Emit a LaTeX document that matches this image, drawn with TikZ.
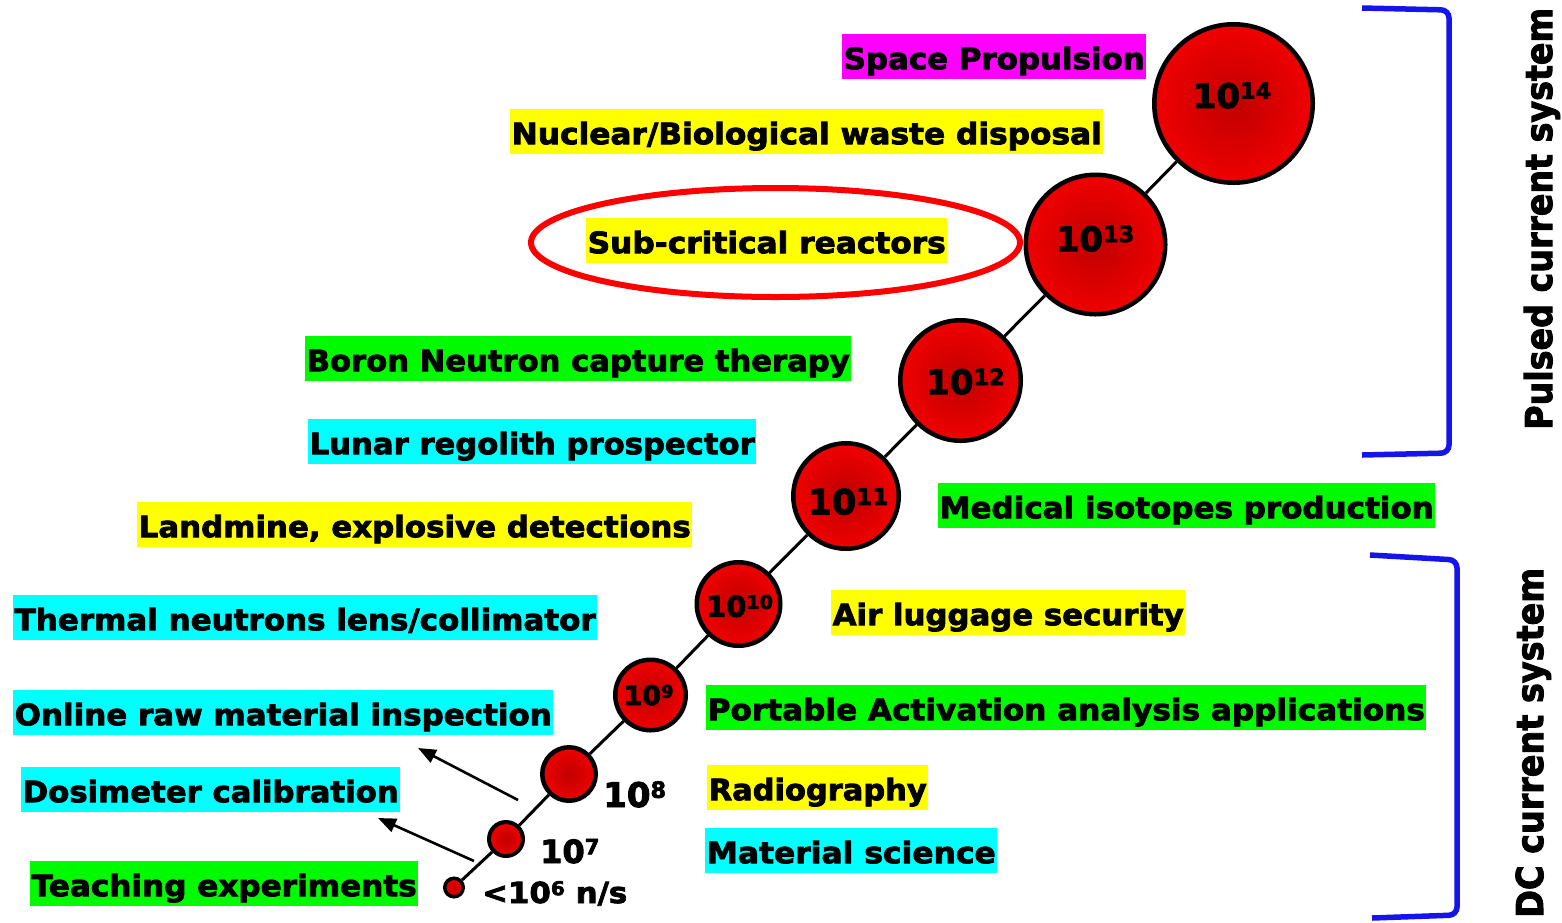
\documentclass[tikz,border=0pt]{standalone}
\usepackage{fontspec}
\setmainfont{DejaVu Sans}[BoldFeatures={FakeBold=2.6}]
\usepackage{graphicx}
\usetikzlibrary{shapes.geometric,arrows.meta}
\definecolor{cyel}{RGB}{255,255,0}
\definecolor{cgrn}{RGB}{0,250,0}
\definecolor{ccyn}{RGB}{0,255,255}
\definecolor{cmag}{RGB}{255,0,255}
\definecolor{cblu}{RGB}{20,20,235}
\definecolor{ballin}{RGB}{192,0,0}
\definecolor{ballout}{RGB}{240,0,0}
\definecolor{ringred}{RGB}{255,0,0}
\newcommand\fitw[2]{\resizebox{#1}{\height}{#2}}
\newcommand\pw[1]{\raisebox{0.27em}{\scalebox{0.66}{#1}}}
\newcommand\lbl{\fontsize{29.5}{34}\selectfont\bfseries}
\begin{document}
\begin{tikzpicture}[x=1pt,y=-1pt,
  lab/.style={anchor=north west, inner xsep=1.5pt, inner ysep=0pt, text height=35pt, text depth=10pt, font=\lbl},
  ball/.style={circle, draw=black, line width=4.5pt, inner sep=0pt, inner color=ballin, outer color=ballout},
  num/.style={font=\bfseries\fontsize{#1}{#1}\selectfont, inner sep=0pt},
  link/.style={draw=black, line width=3pt},
  arr/.style={draw=black, line width=2.6pt, -{Triangle[length=18pt,width=14pt]}},
  brk/.style={draw=cblu, line width=5.5pt, rounded corners=8pt},
  vlab/.style={rotate=90, inner sep=0pt, font=\bfseries\fontsize{37}{37}\selectfont},
  ring/.style={ellipse, draw=ringred, line width=6pt, inner sep=0pt}
]
\fill[white] (0,0) rectangle (1562,922);
\useasboundingbox (0,0) rectangle (1562,922);

% labels
\node[lab, fill=cmag] (sp)   at (842,34)  {\fitw{301pt}{Space Propulsion}};
\node[lab, fill=cyel] (nbw)  at (510,109) {\fitw{590pt}{Nuclear/Biological waste disposal}};
\node[lab, fill=cyel] (scr)  at (586,218) {\fitw{358pt}{Sub-critical reactors}};
\node[lab, fill=cgrn] (bnct) at (305,336) {\fitw{543pt}{Boron Neutron capture therapy}};
\node[lab, fill=ccyn] (lrp)  at (308,419) {\fitw{445pt}{Lunar regolith prospector}};
\node[lab, fill=cyel] (led)  at (137,502) {\fitw{552pt}{Landmine, explosive detections}};
\node[lab, fill=ccyn] (tnl)  at (13,595)  {\fitw{581pt}{Thermal neutrons lens/collimator}};
\node[lab, fill=ccyn] (orm)  at (13,690)  {\fitw{537pt}{Online raw material inspection}};
\node[lab, fill=ccyn] (dos)  at (21,767)  {\fitw{376pt}{Dosimeter calibration}};
\node[lab, fill=cgrn] (tea)  at (30,861)  {\fitw{385pt}{Teaching experiments}};
\node[lab, fill=cgrn] (mip)  at (938,483) {\fitw{494pt}{Medical isotopes production}};
\node[lab, fill=cyel] (als)  at (831,590) {\fitw{351pt}{Air luggage security}};
\node[lab, fill=cgrn] (paa)  at (706,685) {\fitw{717pt}{Portable Activation analysis applications}};
\node[lab, fill=cyel] (rad)  at (707,765) {\fitw{218pt}{Radiography}};
\node[lab, fill=ccyn] (mat)  at (705,828) {\fitw{289pt}{Material science}};

% ring around sub-critical reactors
\node[ring, minimum width=489pt, minimum height=109pt] (ringn) at (775.5,242.5) {};

% circles
\node[ball, minimum size=158.5pt, label={[num=34, xshift=-1.5pt, yshift=8pt]center:10\pw{14}}] (c14) at (1233.5,103.5) {};
\node[ball, minimum size=139.5pt, label={[num=34, xshift=-0.5pt, yshift=6pt]center:10\pw{13}}] (c13) at (1095.5,244.5) {};
\node[ball, minimum size=120.5pt, label={[num=34, xshift=5pt, yshift=-1pt]center:10\pw{12}}] (c12) at (960.5,380.5) {};
\node[ball, minimum size=105.5pt, label={[num=35, xshift=2pt, yshift=-5.5pt]center:10\pw{11}}] (c11) at (846,496) {};
\node[ball, minimum size=83.5pt, label={[num=29, xshift=1pt, yshift=-2pt]center:10\pw{10}}] (c10) at (738.5,604) {};
\node[ball, minimum size=70.5pt, label={[num=27, xshift=-2pt]center:10\pw{9}}] (c9) at (650.5,695) {};
\node[ball, minimum size=53.5pt] (c8) at (569,774) {};
\node[ball, line width=4pt, minimum size=34pt] (c7) at (506,839) {};
\node[ball, line width=3.5pt, minimum size=18.5pt] (c6) at (454,887.5) {};

\draw[link] (c6) -- (c7) -- (c8) -- (c9) -- (c10) -- (c11) -- (c12) -- (c13) -- (c14);

% outside values
\node[num=34, anchor=base west] (t8) at (603,807) {10\pw{8}};
\node[num=32, anchor=base west] (t7) at (540,863) {10\pw{7}};
\node[num=29, anchor=base west] (t6) at (482,903) {\fitw{145pt}{<10\pw{6} n/s}};

% arrows
\coordinate (a1s) at (518,800);
\coordinate (a1e) at (418,748);
\coordinate (a2s) at (474,861);
\coordinate (a2e) at (378,818);
\draw[arr] (a1s) -- (a1e);
\draw[arr] (a2s) -- (a2e);

% brackets
\coordinate (b1a) at (1362,8);
\coordinate (b1b) at (1449,10);
\coordinate (b1c) at (1449,453);
\coordinate (b1d) at (1362,455);
\draw[brk] (b1a) -- (b1b) -- (b1c) -- (b1d);
\coordinate (b2a) at (1370,555);
\coordinate (b2b) at (1457,560);
\coordinate (b2c) at (1457,915);
\coordinate (b2d) at (1372,918);
\draw[brk] (b2a) -- (b2b) -- (b2c) -- (b2d);

% vertical titles
\node[vlab, anchor=base west] (pulsed) at (1552,430) {\fitw{422pt}{Pulsed current system}};
\node[vlab, anchor=base west] (dcsys) at (1543,918) {\fitw{350pt}{DC current system}};
\end{tikzpicture}
\end{document}
